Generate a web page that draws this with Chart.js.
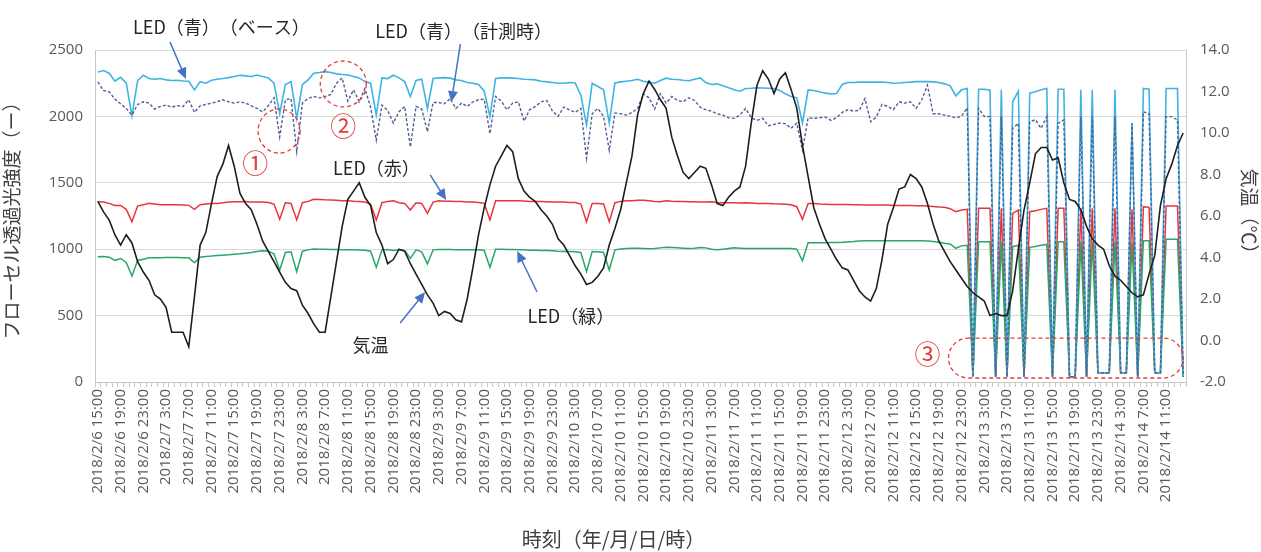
<!DOCTYPE html>
<html>
<head>
<meta charset="utf-8">
<script src="https://cdn.jsdelivr.net/npm/chart.js@4.4.1/dist/chart.umd.min.js"></script>
<style>
  html, body { margin: 0; padding: 0; background: #fff; }
  canvas { display: block; }
</style>
</head>
<body>
<canvas id="flowChart" width="1261" height="552"></canvas>
<script>
// hourly readings, 2018/2/6 15:00 .. 2018/2/14 14:00
const startTime = { y: 2018, m: 2, d: 6, h: 15 };
const hourCount = 192;

const ledBlueBase = [
  2335,2345,2325,2265,2295,2250,2005,2270,2310,2285,2280,2285,2275,2270,2272,2267,
  2265,2200,2262,2250,2272,2280,2285,2292,2300,2310,2305,2300,2312,2300,2290,2250,
  2020,2240,2262,1985,2240,2275,2325,2330,2337,2330,2320,2315,2312,2300,2290,2262,
  2250,2010,2290,2285,2310,2290,2262,2150,2270,2280,2060,2285,2290,2292,2288,2275,
  2270,2255,2250,2240,2190,2000,2285,2290,2290,2288,2285,2280,2278,2275,2265,2260,
  2255,2250,2250,2255,2252,2160,1935,2250,2225,2200,1950,2252,2260,2265,2270,2280,
  2265,2258,2250,2270,2288,2280,2278,2272,2268,2280,2290,2255,2240,2245,2230,2215,
  2200,2190,2210,2212,2215,2214,2212,2210,2195,2170,2150,2140,1950,2200,2195,2185,
  2175,2170,2172,2240,2255,2255,2258,2258,2258,2258,2258,2255,2250,2252,2255,2258,
  2262,2262,2262,2260,2255,2245,2230,2155,2200,2210,40,2205,2205,2200,40,2200,
  40,2110,2190,40,2175,2185,2200,2210,40,2205,2205,40,40,2200,40,2200,
  70,70,70,2200,70,70,1950,40,2210,2205,70,70,2210,2210,2210,40
];

const ledBlueMeasure = [
  2260,2195,2185,2130,2095,2060,2010,2090,2110,2100,2055,2075,2085,2070,2080,2075,
  2125,2030,2080,2090,2100,2110,2125,2110,2100,2110,2100,2080,2060,2035,2080,2140,
  1845,2125,2135,1735,2100,2135,2150,2140,2150,2165,2250,2290,2115,2200,2110,2210,
  2070,1820,2085,2045,1950,2035,2075,1770,2075,2055,1885,2105,2105,2095,2135,2060,
  2100,2075,2110,2125,2130,1870,2150,2115,2050,2100,2110,1965,2050,2075,2110,2120,
  2040,2000,2070,2050,2030,2060,1685,2020,2060,2000,1745,2025,2020,2010,2030,2060,
  2170,2140,2055,2170,2100,2150,2120,2110,2140,2120,2070,2050,2040,2020,2010,1990,
  1985,2010,2060,1990,1970,1985,1930,1940,1950,1945,1910,1950,1745,1990,1985,1990,
  1995,1970,1990,2030,2050,2040,2045,2135,1960,1995,2090,2075,2050,2110,2100,2110,
  2060,2125,2235,2020,2020,2010,2000,1990,2000,2065,40,2060,2000,1998,40,2000,
  40,1910,1948,40,1960,1975,1910,1998,40,1948,1973,40,40,2000,40,2000,
  70,70,70,2000,70,70,1948,40,2035,2020,70,70,1998,1998,1973,40
];

const ledRed = [
  1358,1355,1345,1330,1330,1300,1207,1325,1335,1345,1340,1335,1335,1335,1335,1333,
  1330,1300,1335,1340,1345,1345,1350,1355,1358,1358,1360,1355,1355,1355,1352,1340,
  1225,1350,1345,1220,1350,1360,1376,1375,1372,1370,1368,1365,1365,1362,1360,1355,
  1340,1220,1350,1360,1365,1350,1345,1295,1350,1345,1270,1355,1365,1362,1362,1360,
  1360,1355,1355,1352,1345,1220,1365,1365,1365,1365,1365,1363,1360,1360,1360,1358,
  1355,1355,1355,1352,1352,1340,1207,1345,1345,1340,1207,1350,1360,1365,1365,1368,
  1368,1365,1360,1358,1365,1362,1360,1360,1358,1358,1355,1355,1358,1352,1350,1350,
  1350,1348,1350,1348,1345,1345,1345,1342,1340,1338,1335,1320,1225,1345,1345,1340,
  1338,1336,1336,1336,1336,1334,1334,1333,1333,1332,1332,1332,1330,1330,1330,1330,
  1328,1328,1325,1322,1318,1315,1305,1282,1295,1300,40,1308,1308,1308,40,1308,
  40,1270,1295,40,1282,1290,1300,1308,40,1308,1308,40,40,1308,40,1308,
  70,70,70,1308,70,70,1300,40,1320,1315,70,70,1325,1325,1325,40
];

const ledGreen = [
  944,945,940,915,930,900,798,915,925,935,935,935,938,938,938,936,
  935,898,940,945,948,952,955,958,962,965,970,975,982,989,985,965,
  843,975,980,831,985,995,1001,1000,999,998,997,996,996,995,994,992,
  985,864,995,998,990,995,990,931,995,980,889,995,998,998,998,996,
  996,995,996,996,990,864,1000,1000,998,998,996,995,993,992,990,990,
  988,985,983,982,980,975,831,982,980,975,843,995,1001,1005,1007,1007,
  1005,1003,1005,1010,1014,1012,1010,1008,1005,1008,1012,1010,1000,995,1000,1005,
  1010,1008,1006,1005,1005,1006,1006,1006,1005,1005,1005,1000,913,1049,1049,1049,
  1049,1050,1050,1052,1055,1058,1062,1064,1064,1064,1064,1064,1064,1064,1064,1064,
  1064,1064,1062,1058,1052,1045,1040,1007,1025,1030,40,1056,1056,1056,40,1056,
  40,1019,1030,40,1014,1020,1030,1036,40,1056,1056,40,40,1056,40,1056,
  70,70,70,1056,70,70,1050,40,1064,1064,70,70,1075,1075,1075,40
];

const airTemp = [
  6.7,6.2,5.8,5.1,4.6,5.1,4.7,3.8,3.3,2.9,2.2,2.0,1.6,0.4,0.4,0.4,
  -0.3,2.1,4.6,5.2,6.6,7.9,8.5,9.4,8.4,7.1,6.6,6.3,5.6,4.8,4.3,3.8,
  3.3,2.8,2.5,2.4,1.7,1.3,0.8,0.4,0.4,2.1,3.8,5.5,6.8,7.2,7.6,6.9,
  6.5,5.2,4.6,3.7,3.9,4.4,4.3,3.7,3.2,2.7,2.2,1.8,1.2,1.4,1.3,1.0,
  0.9,2.0,3.5,5.1,6.4,7.5,8.4,8.9,9.4,9.1,7.8,7.2,6.9,6.7,6.3,6.0,
  5.6,4.9,4.6,4.1,3.6,3.2,2.7,2.8,3.1,3.5,4.6,5.4,6.3,7.6,8.9,10.9,
  11.9,12.5,12.1,11.6,11.2,9.8,8.9,8.1,7.8,8.1,8.4,8.3,7.5,6.6,6.5,6.9,
  7.2,7.4,8.4,10.5,12.3,13.0,12.6,11.9,12.6,12.9,12.1,11.2,9.4,7.9,6.4,5.6,
  4.9,4.4,3.9,3.5,3.4,2.9,2.4,2.1,1.9,2.5,3.9,5.6,6.4,7.3,7.4,8.0,
  7.8,7.4,6.6,5.6,4.8,4.3,3.8,3.4,3.0,2.6,2.3,2.1,1.9,1.2,1.3,1.2,
  1.2,2.4,4.4,6.3,7.6,9.0,9.3,9.3,8.7,8.8,7.6,6.8,6.7,6.3,5.5,4.9,
  4.6,4.4,3.6,3.1,2.9,2.6,2.3,2.1,2.2,3.2,4.1,6.5,7.8,8.5,9.4,10.0
];

const leftTicks = [0, 500, 1000, 1500, 2000, 2500];
const rightTicks = [-2, 0, 2, 4, 6, 8, 10, 12, 14];

// category labels, one per hour
const hourLabels = [];
{
  const t = new Date(startTime.y, startTime.m - 1, startTime.d, startTime.h);
  for (let i = 0; i < hourCount; i++) {
    hourLabels.push(`${t.getFullYear()}/${t.getMonth() + 1}/${t.getDate()} ${t.getHours()}:00`);
    t.setHours(t.getHours() + 1);
  }
}

const tickFont = { family: '"Open Sans", "Noto Sans CJK JP", sans-serif', size: 15 };
const jpFont = '"Noto Sans CJK JP", sans-serif';
const grey = '#595959';

// callouts drawn on top of the chart (index / left-axis value coordinates)
const calloutPlugin = {
  id: 'callouts',
  afterDraw(chart) {
    const { ctx, chartArea, scales: { x, y } } = chart;
    const px = (i) => x.getPixelForValue(i);
    const py = (v) => y.getPixelForValue(v);
    ctx.save();

    // x axis title, a bit left of the plot centre like the original
    ctx.fillStyle = '#404040';
    ctx.font = `20px ${jpFont}`;
    ctx.textAlign = 'center';
    ctx.textBaseline = 'middle';
    ctx.fillText('時刻（年/月/日/時）', (chartArea.left + chartArea.right) / 2 - 27, 539);

    ctx.fillStyle = '#262626';
    ctx.font = `18px ${jpFont}`;
    ctx.textAlign = 'left';
    [
      ['LED（青）　（ベース）', 6.2, 2673],
      ['LED（青）　（計測時）', 48.8, 2643],
      ['LED（赤）', 41.4, 1611],
      ['LED（緑）', 75.6, 497],
      ['気温', 44.8, 279],
    ].forEach(([t, i, v]) => ctx.fillText(t, px(i), py(v)));

    const arrow = (i0, v0, i1, v1) => {
      const x0 = px(i0), y0 = py(v0), x1 = px(i1), y1 = py(v1);
      const a = Math.atan2(y1 - y0, x1 - x0);
      ctx.strokeStyle = '#4472c4';
      ctx.fillStyle = '#4472c4';
      ctx.lineWidth = 1.5;
      ctx.beginPath();
      ctx.moveTo(x0, y0);
      ctx.lineTo(x1 - 8 * Math.cos(a), y1 - 8 * Math.sin(a));
      ctx.stroke();
      ctx.beginPath();
      ctx.moveTo(x1, y1);
      ctx.lineTo(x1 - 11 * Math.cos(a) + 5 * Math.sin(a), y1 - 11 * Math.sin(a) - 5 * Math.cos(a));
      ctx.lineTo(x1 - 11 * Math.cos(a) - 5 * Math.sin(a), y1 - 11 * Math.sin(a) + 5 * Math.cos(a));
      ctx.closePath();
      ctx.fill();
    };
    arrow(12.7, 2560, 15.5, 2282);
    arrow(63.8, 2545, 62.2, 2108);
    arrow(58.5, 1559, 61.3, 1370);
    arrow(77.3, 678, 73.8, 986);
    arrow(53.2, 444, 57.6, 678);

    // red dashed marks
    ctx.strokeStyle = '#e03c3c';
    ctx.lineWidth = 1.3;
    ctx.setLineDash([4, 3]);
    const ring = (i, v, ri, rv) => {
      ctx.beginPath();
      ctx.ellipse(px(i), py(v), Math.abs(px(i + ri) - px(i)), Math.abs(py(v + rv) - py(v)), 0, 0, Math.PI * 2);
      ctx.stroke();
    };
    ring(31.9, 1890, 3.7, 166);
    ring(43.2, 2244, 4.05, 173);
    const bx0 = px(149.7), bx1 = px(191), by0 = py(331), by1 = py(30);
    ctx.beginPath();
    ctx.roundRect(bx0, by0, bx1 - bx0, by1 - by0, (by1 - by0) / 2);
    ctx.stroke();
    ctx.setLineDash([]);

    ctx.fillStyle = '#e03c3c';
    ctx.font = `26px ${jpFont}`;
    ctx.textAlign = 'center';
    ctx.fillText('①', px(27.7), py(1649));
    ctx.fillText('②', px(43.2), py(1928));
    ctx.fillText('③', px(146), py(211));
    ctx.restore();
  }
};

const ctx = document.getElementById('flowChart').getContext('2d');
new Chart(ctx, {
  type: 'line',
  data: {
    labels: hourLabels,
    datasets: [
      { label: '気温', data: airTemp, yAxisID: 'y2', borderColor: '#1e1e1e', borderWidth: 1.6, order: 0 },
      { label: 'LED（青）（計測時）', data: ledBlueMeasure, yAxisID: 'y', borderColor: '#4f5f95', borderWidth: 1.4, borderDash: [3, 2], order: 1 },
      { label: 'LED（青）（ベース）', data: ledBlueBase, yAxisID: 'y', borderColor: '#3fb4e2', borderWidth: 1.6, order: 2 },
      { label: 'LED（緑）', data: ledGreen, yAxisID: 'y', borderColor: '#27a866', borderWidth: 1.5, order: 3 },
      { label: 'LED（赤）', data: ledRed, yAxisID: 'y', borderColor: '#e8353c', borderWidth: 1.5, order: 4 },
    ],
  },
  options: {
    responsive: false,
    animation: false,
    layout: { padding: { top: 50, left: 0, right: 0, bottom: 0 } },
    elements: { point: { radius: 0 }, line: { tension: 0 } },
    plugins: { legend: { display: false }, tooltip: { enabled: false } },
    scales: {
      x: {
        offset: true,
        grid: { drawOnChartArea: false, offset: true, tickLength: 5, color: '#c8c8c8' },
        border: { color: '#c8c8c8' },
        ticks: {
          autoSkip: false, minRotation: 90, maxRotation: 90, padding: 2,
          font: tickFont, color: grey,
          callback: (v, i) => (i % 4 === 0 ? hourLabels[i] : ''),
        },
        afterFit: (s) => { s.height = 170; },
      },
      y: {
        position: 'left', min: 0, max: 2500,
        afterBuildTicks: (s) => { s.ticks = leftTicks.map((v) => ({ value: v })); },
        grid: { color: '#d9d9d9', drawTicks: false },
        border: { color: '#c8c8c8' },
        ticks: { font: tickFont, color: grey, padding: 12, callback: (v) => String(v) },
        title: { display: true, text: 'フローセル透過光強度（ー）', color: '#404040', font: { family: jpFont, size: 19 }, padding: { top: 0, bottom: 0 } },
        afterFit: (s) => { s.width = 95; },
      },
      y2: {
        position: 'right', min: -2, max: 14,
        afterBuildTicks: (s) => { s.ticks = rightTicks.map((v) => ({ value: v })); },
        grid: { drawOnChartArea: false, drawTicks: false },
        border: { color: '#c8c8c8' },
        ticks: { font: tickFont, color: grey, padding: 14, callback: (v) => Number(v).toFixed(1) },
        title: { display: true, text: '気温（℃）', color: '#404040', font: { family: jpFont, size: 19 }, padding: { top: 0, bottom: 2 } },
        afterFit: (s) => { s.width = 75; },
      },
    },
  },
  plugins: [calloutPlugin],
});
</script>
</body>
</html>
